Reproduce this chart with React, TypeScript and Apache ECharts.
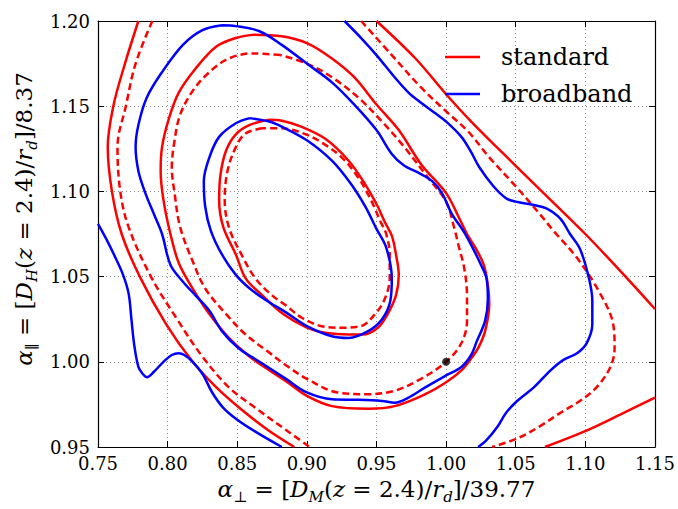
import React, { useEffect, useRef } from "react";
import * as echarts from "echarts";

// ---- axis ticks ----
const xTickValues = [0.75, 0.8, 0.85, 0.9, 0.95, 1.0, 1.05, 1.1, 1.15];
const yTickValues = [0.95, 1.0, 1.05, 1.1, 1.15, 1.2];

// ---- standard (red, solid) contours ----
const stdOuterLeft = [
  [0.779, 1.2], [0.769, 1.174], [0.761, 1.15], [0.757, 1.126], [0.76, 1.1], [0.767, 1.075],
  [0.78, 1.05], [0.799, 1.022], [0.818, 1.0], [0.835, 0.985], [0.853, 0.972], [0.872, 0.96], [0.891, 0.95],
];
const stdOuterRight = [
  [0.95, 1.2], [0.978, 1.178], [1.0, 1.157], [1.018, 1.141], [1.05, 1.115], [1.075, 1.095],
  [1.1, 1.075], [1.13, 1.049], [1.15, 1.031],
];
const stdOuterBottom = [[1.071, 0.95], [1.099, 0.959], [1.125, 0.969], [1.15, 0.979]];
const stdMid = [
  [0.862, 1.192], [0.849, 1.19], [0.835, 1.185], [0.82, 1.172], [0.808, 1.158], [0.801, 1.143],
  [0.796, 1.126], [0.795, 1.112], [0.797, 1.095], [0.802, 1.075], [0.808, 1.058], [0.818, 1.043],
  [0.83, 1.028], [0.844, 1.014], [0.859, 1.003], [0.873, 0.995], [0.886, 0.988], [0.9, 0.98],
  [0.918, 0.974], [0.944, 0.9725], [0.963, 0.974], [0.985, 0.981], [1.0, 0.988], [1.011, 0.995],
  [1.018, 1.002], [1.023, 1.008], [1.028, 1.018], [1.031, 1.034], [1.03, 1.045], [1.027, 1.057],
  [1.021, 1.067], [1.015, 1.075], [1.009, 1.085], [1.0, 1.099], [0.982, 1.116], [0.966, 1.136],
  [0.95, 1.151], [0.934, 1.167], [0.918, 1.178], [0.9, 1.187], [0.882, 1.191], [0.862, 1.192],
];
const stdInner = [
  [0.873, 1.142], [0.859, 1.139], [0.849, 1.1335], [0.842, 1.124], [0.838, 1.11], [0.837, 1.095],
  [0.84, 1.079], [0.849, 1.063], [0.856, 1.049], [0.868, 1.039], [0.883, 1.028], [0.9, 1.02],
  [0.913, 1.017], [0.93, 1.016], [0.94, 1.016], [0.951, 1.02], [0.958, 1.028], [0.964, 1.039],
  [0.966, 1.051], [0.964, 1.063], [0.961, 1.074], [0.956, 1.082], [0.951, 1.091], [0.942, 1.104],
  [0.93, 1.118], [0.913, 1.131], [0.896, 1.138], [0.882, 1.1415], [0.873, 1.142],
];

// ---- standard (red, dashed) contours ----
const stdDashOuterLeft = [
  [0.789, 1.2], [0.777, 1.175], [0.77, 1.15], [0.764, 1.126], [0.766, 1.1], [0.772, 1.079],
  [0.788, 1.05], [0.806, 1.026], [0.825, 1.003], [0.844, 0.985], [0.863, 0.973], [0.885, 0.96], [0.902, 0.95],
];
const stdDashOuterRight = [
  [0.939, 1.2], [0.961, 1.18], [0.982, 1.161], [1.0, 1.147], [1.016, 1.135], [1.031, 1.12],
  [1.05, 1.103], [1.067, 1.087], [1.077, 1.077], [1.094, 1.061], [1.11, 1.041], [1.12, 1.022],
  [1.121, 1.008], [1.118, 0.997], [1.108, 0.985], [1.096, 0.977], [1.082, 0.97], [1.067, 0.962],
  [1.051, 0.955], [1.033, 0.95],
];
const stdDashMid = [
  [0.881, 1.18], [0.861, 1.181], [0.844, 1.178], [0.83, 1.17], [0.818, 1.159], [0.809, 1.145],
  [0.805, 1.13], [0.803, 1.114], [0.805, 1.099], [0.809, 1.079], [0.818, 1.059], [0.827, 1.043],
  [0.842, 1.028], [0.856, 1.016], [0.872, 1.006], [0.885, 0.998], [0.9, 0.99], [0.922, 0.982],
  [0.944, 0.981], [0.963, 0.983], [0.982, 0.99], [1.0, 1.0], [1.011, 1.011], [1.015, 1.024],
  [1.015, 1.039], [1.013, 1.055], [1.009, 1.068], [1.006, 1.078], [1.0, 1.094], [0.987, 1.108],
  [0.97, 1.126], [0.954, 1.141], [0.937, 1.155], [0.918, 1.167], [0.9, 1.175], [0.881, 1.18],
];
const stdDashInner = [
  [0.868, 1.137], [0.856, 1.134], [0.849, 1.126], [0.843, 1.112], [0.841, 1.095], [0.844, 1.079],
  [0.853, 1.063], [0.863, 1.049], [0.875, 1.039], [0.885, 1.033], [0.896, 1.026], [0.91, 1.021],
  [0.925, 1.02], [0.939, 1.021], [0.949, 1.028], [0.956, 1.037], [0.9595, 1.049], [0.9595, 1.063],
  [0.957, 1.075], [0.953, 1.082], [0.946, 1.095], [0.937, 1.108], [0.925, 1.12], [0.91, 1.129],
  [0.896, 1.1345], [0.882, 1.137], [0.868, 1.137],
];

// ---- broadband (blue) contours ----
const bbOuterLeft = [
  [0.75, 1.081], [0.756, 1.072], [0.762, 1.062], [0.768, 1.051], [0.772, 1.04], [0.774, 1.025],
  [0.776, 1.01], [0.779, 0.997], [0.782, 0.993], [0.785, 0.991], [0.79, 0.994], [0.797, 1.0],
  [0.803, 1.004], [0.808, 1.005], [0.812, 1.004], [0.818, 1.0], [0.825, 0.993], [0.832, 0.982],
  [0.84, 0.973], [0.85, 0.966], [0.863, 0.959], [0.882, 0.95],
];
const bbOuterRight = [
  [0.927, 1.2], [0.939, 1.19], [0.95, 1.18], [0.963, 1.167], [0.973, 1.158], [0.982, 1.152],
  [0.992, 1.146], [1.0, 1.141], [1.011, 1.132], [1.018, 1.123], [1.024, 1.114], [1.034, 1.103],
  [1.043, 1.096], [1.05, 1.094], [1.063, 1.092], [1.072, 1.09], [1.082, 1.084], [1.089, 1.075],
  [1.096, 1.0665], [1.102, 1.051], [1.105, 1.036], [1.105, 1.022], [1.101, 1.011], [1.094, 1.005],
  [1.084, 1.001], [1.075, 0.995], [1.063, 0.985], [1.051, 0.977], [1.043, 0.97], [1.037, 0.962],
  [1.029, 0.954], [1.023, 0.95],
];
const bbMid = [
  [0.839, 1.1975], [0.825, 1.1946], [0.811, 1.186], [0.796, 1.17], [0.785, 1.155], [0.779, 1.139],
  [0.777, 1.126], [0.779, 1.112], [0.784, 1.099], [0.79, 1.087], [0.796, 1.075], [0.802, 1.057],
  [0.811, 1.047], [0.82, 1.039], [0.83, 1.03], [0.839, 1.018], [0.851, 1.008], [0.866, 1.0],
  [0.885, 0.99], [0.9, 0.982], [0.918, 0.978], [0.937, 0.9777], [0.954, 0.977], [0.963, 0.976],
  [0.973, 0.979], [0.985, 0.985], [1.0, 0.992], [1.011, 0.997], [1.018, 1.004], [1.022, 1.012],
  [1.028, 1.024], [1.03, 1.037], [1.029, 1.049], [1.025, 1.057], [1.019, 1.067], [1.013, 1.076],
  [1.004, 1.087], [0.997, 1.099], [0.99, 1.106], [0.98, 1.111], [0.97, 1.115], [0.961, 1.122],
  [0.95, 1.136], [0.934, 1.151], [0.918, 1.164], [0.9, 1.175], [0.882, 1.186], [0.866, 1.194],
  [0.849, 1.197], [0.839, 1.1975],
];
const bbInner = [
  [0.859, 1.143], [0.849, 1.14], [0.837, 1.132], [0.83, 1.12], [0.826, 1.106], [0.827, 1.091],
  [0.831, 1.077], [0.839, 1.063], [0.849, 1.051], [0.859, 1.043], [0.871, 1.036], [0.885, 1.029],
  [0.9, 1.021], [0.918, 1.015], [0.93, 1.014], [0.944, 1.018], [0.954, 1.025], [0.96, 1.036],
  [0.961, 1.049], [0.957, 1.067], [0.95, 1.078], [0.942, 1.091], [0.932, 1.104], [0.918, 1.118],
  [0.9, 1.13], [0.882, 1.138], [0.873, 1.141], [0.859, 1.143],
];

// ---- fiducial point ----
const fiducial = [[1.0, 1.0]];

const RED = "#ff0000";
const BLUE = "#0000ff";
const FONT = "DejaVu Serif";

function contour(name: string, data: number[][], color: string, dashed: boolean) {
  return {
    type: "line",
    name,
    data,
    smooth: 0.35,
    symbol: "none",
    showSymbol: false,
    silent: true,
    lineStyle: { color, width: 2.5, type: dashed ? [7, 4] : "solid" },
    itemStyle: { color },
  };
}

const richStyles = {
  n: { fontFamily: FONT, fontSize: 23, lineHeight: 30, color: "#000" },
  i: { fontFamily: FONT, fontSize: 23, lineHeight: 30, color: "#000", fontStyle: "italic" },
  g: { fontFamily: FONT, fontSize: 23, lineHeight: 30, color: "#000", fontStyle: "italic" },
  s: { fontFamily: FONT, fontSize: 15, lineHeight: 16, color: "#000", fontStyle: "italic", verticalAlign: "bottom" },
  sb: { fontFamily: FONT, fontSize: 15, lineHeight: 16, color: "#000", verticalAlign: "bottom" },
  sp: { width: 30, lineHeight: 30, fontSize: 23 },
};

const xName = "{g|α}{sb|⊥}{n| = [}{i|D}{s|M}{n|(}{i|z}{n| = 2.4)/}{i|r}{s|d}{n|]/39.77}";
const yName = "{sp| }{g|α}{sb|∥}{n| = [}{i|D}{s|H}{n|(}{i|z}{n| = 2.4)/}{i|r}{s|d}{n|]/8.37}";

export default function App() {
  const ref = useRef<HTMLDivElement>(null);
  useEffect(() => {
    if (!ref.current) return;
    const chart = echarts.init(ref.current, undefined, { renderer: "svg" });
    const axisLine = { show: true, onZero: false, lineStyle: { color: "#000", width: 1.2 } };
    const tick = { show: true, inside: true, length: 6, lineStyle: { color: "#000", width: 1 } };
    const split = { show: true, lineStyle: { color: "#8a8a8a", width: 1, type: [1, 3] } };
    const label = {
      fontFamily: FONT,
      fontSize: 18,
      color: "#000",
      formatter: (v: number) => v.toFixed(2),
      showMinLabel: true,
      showMaxLabel: true,
    };
    chart.setOption({
      animation: false,
      backgroundColor: "#fff",
      grid: { left: 98, right: 23, top: 21, bottom: 58, containLabel: false },
      legend: {
        data: ["standard", "broadband"],
        orient: "vertical",
        left: 440,
        top: 38,
        icon: "rect",
        itemWidth: 35,
        itemHeight: 2.5,
        itemGap: 9,
        textStyle: { fontFamily: FONT, fontSize: 24, color: "#000", lineHeight: 28, padding: [0, 0, 0, 16] },
      },
      xAxis: [
        {
          type: "value",
          min: xTickValues[0],
          max: xTickValues[xTickValues.length - 1],
          interval: 0.05,
          position: "bottom",
          axisLine,
          axisTick: tick,
          axisLabel: { ...label, margin: 7 },
          splitLine: split,
          name: xName,
          nameLocation: "middle",
          nameGap: 27,
          nameTextStyle: { rich: richStyles, fontFamily: FONT, fontSize: 23 },
        },
        {
          type: "value",
          min: xTickValues[0],
          max: xTickValues[xTickValues.length - 1],
          interval: 0.05,
          position: "top",
          axisLine,
          axisTick: tick,
          axisLabel: { show: false },
          splitLine: { show: false },
        },
      ],
      yAxis: [
        {
          type: "value",
          min: yTickValues[0],
          max: yTickValues[yTickValues.length - 1],
          interval: 0.05,
          position: "left",
          axisLine,
          axisTick: tick,
          axisLabel: { ...label, margin: 8 },
          splitLine: split,
          name: yName,
          nameLocation: "middle",
          nameRotate: 90,
          nameGap: 54,
          nameTextStyle: { rich: richStyles, fontFamily: FONT, fontSize: 23 },
        },
        {
          type: "value",
          min: yTickValues[0],
          max: yTickValues[yTickValues.length - 1],
          interval: 0.05,
          position: "right",
          axisLine,
          axisTick: tick,
          axisLabel: { show: false },
          splitLine: { show: false },
        },
      ],
      series: [
        contour("standard", stdOuterLeft, RED, false),
        contour("standard", stdOuterRight, RED, false),
        contour("standard", stdOuterBottom, RED, false),
        contour("standard", stdMid, RED, false),
        contour("standard", stdInner, RED, false),
        contour("standard dashed", stdDashOuterLeft, RED, true),
        contour("standard dashed", stdDashOuterRight, RED, true),
        contour("standard dashed", stdDashMid, RED, true),
        contour("standard dashed", stdDashInner, RED, true),
        contour("broadband", bbOuterLeft, BLUE, false),
        contour("broadband", bbOuterRight, BLUE, false),
        contour("broadband", bbMid, BLUE, false),
        contour("broadband", bbInner, BLUE, false),
        {
          type: "scatter",
          name: "fiducial",
          data: fiducial,
          symbol: "circle",
          symbolSize: 8,
          itemStyle: { color: "#000" },
          z: 10,
          silent: true,
        },
      ],
    });
    return () => chart.dispose();
  }, []);
  return <div ref={ref} style={{ position: "fixed", left: 0, top: 0, width: 678, height: 509 }} />;
}
